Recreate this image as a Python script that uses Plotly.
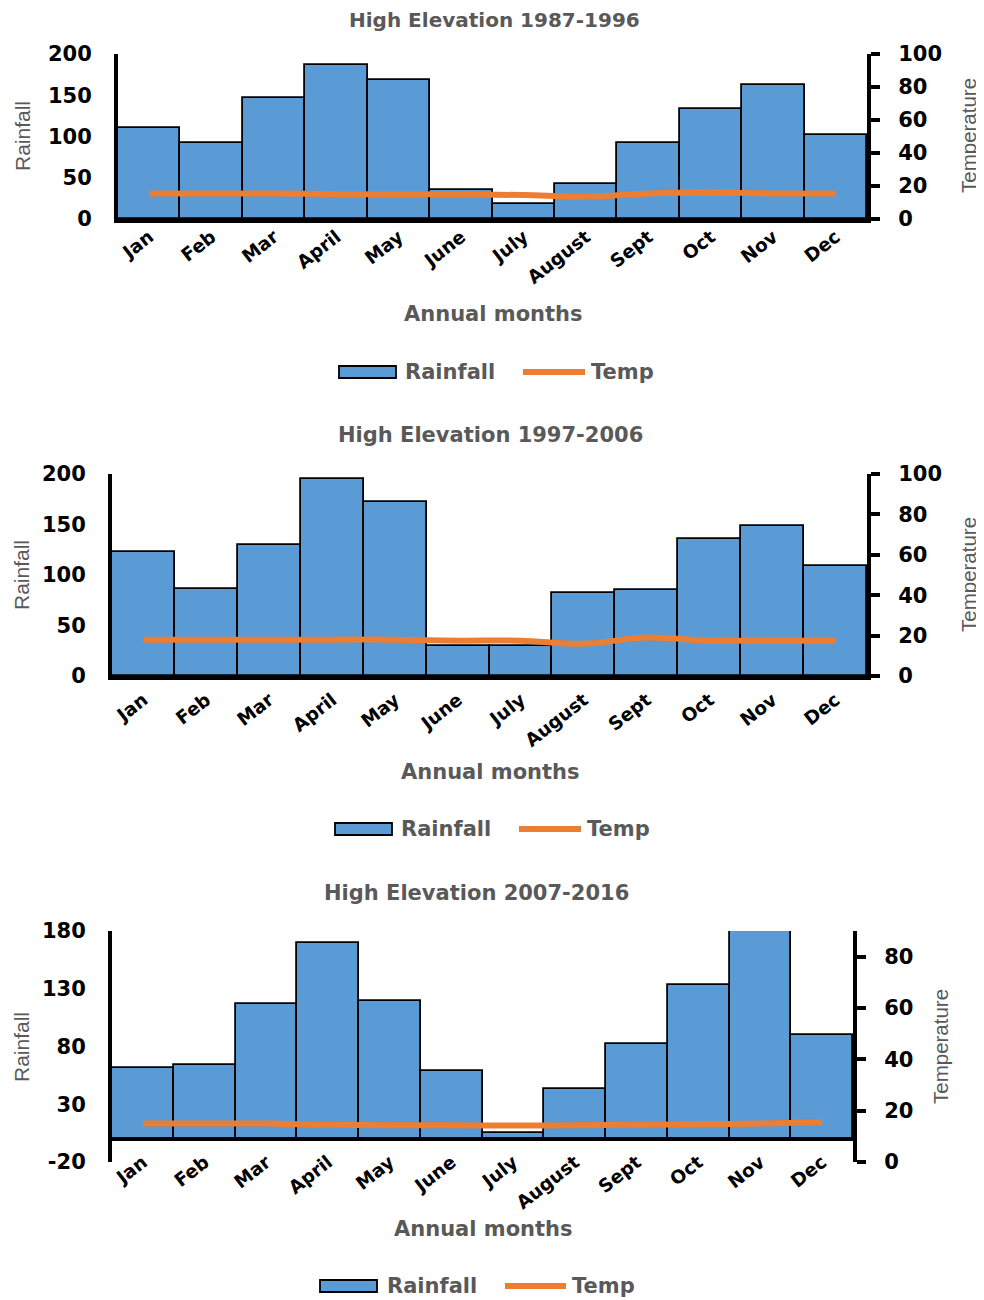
import plotly.graph_objects as go

W, H = 984, 1300
OFF = 8  # page body margin in the rendered html

months = ["Jan", "Feb", "Mar", "April", "May", "June", "July", "August",
          "Sept", "Oct", "Nov", "Dec"]

titles = ["High Elevation 1987-1996", "High Elevation 1997-2006",
          "High Elevation 2007-2016"]

rain_1987 = [110, 92, 147, 187, 168, 35, 18, 42, 92, 133, 162, 102]
temp_1987 = [15.5, 15.5, 15.5, 15, 15, 15, 14.5, 13.5, 15.5, 16, 15.5, 15.5]

rain_1997 = [123, 86, 130, 195, 172, 30, 30, 82, 85, 136, 149, 109]
temp_1997 = [18, 18, 18, 18, 18, 17.5, 17.5, 16, 19, 17.5, 17.5, 17.5]

rain_2007 = [61, 64, 117, 170, 119, 59, 5, 43, 82, 133, 195, 90]
temp_2007 = [15, 15, 15, 14.5, 14.3, 14.3, 14.2, 14.3, 14.5, 14.7, 15, 15.5]

rain_ranges = [[0, 200], [0, 200], [-20, 180]]
rain_ticks = [[0, 50, 100, 150, 200], [0, 50, 100, 150, 200], [-20, 30, 80, 130, 180]]
temp_ranges = [[0, 100], [0, 100], [0, 90]]
temp_ticks = [[0, 20, 40, 60, 80, 100], [0, 20, 40, 60, 80, 100], [0, 20, 40, 60, 80]]

rains = [rain_1987, rain_1997, rain_2007]
temps = [temp_1987, temp_1997, temp_2007]

# layout geometry (pixels in the final picture)
plot_x = [(118, 867), (112, 867), (112, 853)]
plot_y = [(54, 219), (474, 676), (931, 1162)]
title_pos = [(494, 20), (490, 435), (476, 893)]
title_size = [20, 21, 21]
xlab_pos = [(493, 314), (490, 772), (483, 1229)]
rain_lab = [(22, 136), (21, 575), (21, 1047)]
temp_lab = [(968, 136), (968, 575), (940, 1047)]
xtick_standoff = [-4, 2, -15]
# legend: (rect x0, rect x1, text x, line x0, line x1, text x, y)
legend_geo = [(339, 396, 403, 523, 585, 589, 372),
              (335, 392, 399, 519, 581, 585, 829),
              (320, 377, 385, 505, 566, 570, 1286)]

BLUE = "#5B9BD5"
ORANGE = "#ED7D31"
GRAY = "#595959"
FONT = "DejaVu Sans"
NARROW = "Liberation Sans Narrow, Liberation Sans, Arial"

def px(x):
    return (x - OFF) / W

def py(y):
    return 1 - (y - OFF) / H

fig = go.Figure()
layout = dict(width=W, height=H, margin=dict(l=0, r=0, t=0, b=0, autoexpand=False),
              plot_bgcolor="white", paper_bgcolor="white", bargap=0,
              showlegend=False)
annotations = []
shapes = []

def ann(text, x, y, size, bold=True, family=FONT, angle=0, xanchor="center"):
    annotations.append(dict(text=text, x=px(x), y=py(y), xref="paper", yref="paper",
                            showarrow=False, textangle=angle, xanchor=xanchor,
                            yanchor="middle",
                            font=dict(family=family, size=size, color=GRAY,
                                      weight="bold" if bold else "normal")))

for i in range(3):
    xa = "x" if i == 0 else f"x{i+1}"
    ya_l = "y" if i == 0 else f"y{2*i+1}"
    ya_r = f"y{2*i+2}"
    fig.add_trace(go.Bar(x=months, y=rains[i], name="Rainfall", xaxis=xa, yaxis=ya_l,
                         marker=dict(color=BLUE, line=dict(color="black", width=1.8))))
    fig.add_trace(go.Scatter(x=months, y=temps[i], name="Temp", mode="lines",
                             xaxis=xa, yaxis=ya_r,
                             line=dict(color=ORANGE, width=6, shape="spline")))

    xk = "xaxis" if i == 0 else f"xaxis{i+1}"
    ylk = "yaxis" if i == 0 else f"yaxis{2*i+1}"
    yrk = f"yaxis{2*i+2}"
    xdom = [px(plot_x[i][0]), px(plot_x[i][1])]
    ydom = [py(plot_y[i][1]), py(plot_y[i][0])]
    layout[xk] = dict(domain=xdom, anchor=ya_l, automargin=False,
                      type="category", tickangle=-38, showgrid=False,
                      showline=(i < 2), linecolor="black", linewidth=4,
                      tickfont=dict(family=FONT, size=18.5, color="black", weight="bold"),
                      ticks="", ticklabelstandoff=xtick_standoff[i], fixedrange=True)
    layout[ylk] = dict(domain=ydom, anchor=xa, automargin=False,
                       range=rain_ranges[i], tickvals=rain_ticks[i],
                       ticktext=[str(v) for v in rain_ticks[i]],
                       showgrid=False, zeroline=False, showline=True, linecolor="black",
                       linewidth=4, ticks="",
                       tickfont=dict(family=FONT, size=21, color="black", weight="bold"),
                       ticklabelstandoff=18)
    layout[yrk] = dict(domain=ydom, anchor=xa, overlaying=ya_l, side="right",
                       automargin=False,
                       range=temp_ranges[i], tickvals=temp_ticks[i],
                       ticktext=[str(v) for v in temp_ticks[i]],
                       showgrid=False, zeroline=False, showline=True, linecolor="black",
                       linewidth=4, ticks="outside", ticklen=9, tickwidth=4, tickcolor="black",
                       tickfont=dict(family=FONT, size=21, color="black", weight="bold"),
                       ticklabelstandoff=14)

    ann(titles[i], *title_pos[i], title_size[i])
    ann("Annual months", *xlab_pos[i], 21)
    ann("Rainfall", *rain_lab[i], 21, bold=False, family=NARROW, angle=-90)
    ann("Temperature", *temp_lab[i], 20.5, bold=False, family=NARROW, angle=-90)

    # legend (drawn as a key: swatch + label)
    rx0, rx1, tx1, lx0, lx1, tx2, ly = legend_geo[i]
    shapes.append(dict(type="rect", xref="paper", yref="paper",
                       x0=px(rx0), x1=px(rx1), y0=py(ly + 6), y1=py(ly - 6),
                       fillcolor=BLUE, line=dict(color="black", width=1.8)))
    shapes.append(dict(type="line", xref="paper", yref="paper",
                       x0=px(lx0), x1=px(lx1), y0=py(ly), y1=py(ly),
                       line=dict(color=ORANGE, width=6)))
    ann("Rainfall", tx1, ly, 21, xanchor="left")
    ann("Temp", tx2, ly, 21, xanchor="left")

# zero baseline for the third chart (axis line crossing at rainfall = 0)
shapes.append(dict(type="line", xref="x3 domain", yref="y5", x0=0, x1=1, y0=0, y1=0,
                   line=dict(color="black", width=4), layer="above"))

layout["annotations"] = annotations
layout["shapes"] = shapes
fig.update_layout(**layout)
fig.write_html("out.html")
